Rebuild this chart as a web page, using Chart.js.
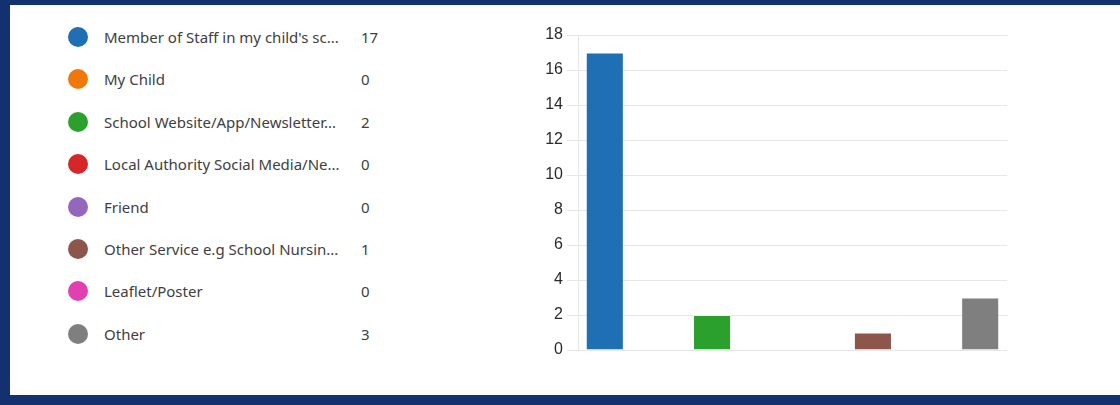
<!DOCTYPE html>
<html>
<head>
<meta charset="utf-8">
<script src="https://cdn.jsdelivr.net/npm/chart.js@4"></script>
<style>
    html, body { margin: 0; padding: 0; }
    body {
        width: 1120px; height: 405px; background: #13306f;
        position: relative; overflow: hidden;
    }
    #panel {
        position: absolute; left: 10px; top: 5px; width: 1110px; height: 390px;
        background: #fff;
    }
    #leyenda {
        position: absolute; left: 0; top: 0;
        font-family: "Noto Sans", "Open Sans", sans-serif; font-size: 15px; color: #404040;
    }
    .fila { position: absolute; height: 24px; line-height: 24px; white-space: nowrap; }
    .punto { position: absolute; left: 58px; top: 2px; width: 20px; height: 20px; border-radius: 50%; }
    .texto { position: absolute; left: 94px; }
    .valor { position: absolute; left: 351px; }
    #graficoFuentes { position: absolute; left: 510px; top: -5px; }
</style>
</head>
<body>
<div id="panel">
    <div id="leyenda"></div>
    <canvas id="graficoFuentes" width="500" height="385"></canvas>
</div>
<script>
// datos
const categorias = [
    "Member of Staff in my child's sc...",
    'My Child',
    'School Website/App/Newsletter...',
    'Local Authority Social Media/Ne...',
    'Friend',
    'Other Service e.g School Nursin...',
    'Leaflet/Poster',
    'Other'
];
const respuestas = [17, 0, 2, 0, 0, 1, 0, 3];
const colores = ['#1f6fb4', '#f0780a', '#2ca02c', '#d62728', '#9467bd', '#8c564b', '#e040b0', '#7f7f7f'];
const ticksY = [0, 2, 4, 6, 8, 10, 12, 14, 16, 18];

document.addEventListener('DOMContentLoaded', function() {
    // leyenda a la izquierda
    const leyenda = document.getElementById('leyenda');
    categorias.forEach(function(nombre, i) {
        const fila = document.createElement('div');
        fila.className = 'fila';
        fila.style.top = (20 + i * 42.4) + 'px';
        fila.innerHTML = '<span class="punto" style="background:' + colores[i] + '"></span>' +
            '<span class="texto">' + nombre + '</span>' +
            '<span class="valor">' + respuestas[i] + '</span>';
        leyenda.appendChild(fila);
    });

    const ctx = document.getElementById('graficoFuentes');
    new Chart(ctx, {
        type: 'bar',
        data: {
            labels: categorias,
            datasets: [{
                data: respuestas,
                backgroundColor: colores,
                borderColor: 'rgba(255,255,255,0.35)',
                borderWidth: 1,
                barPercentage: 0.71,
                categoryPercentage: 1
            }]
        },
        options: {
            responsive: false,
            animation: false,
            layout: { padding: { top: 35, bottom: 35, right: 13, left: 0 } },
            scales: {
                x: { display: false },
                y: {
                    min: 0,
                    max: 18,
                    afterBuildTicks: function(scale) {
                        scale.ticks = ticksY.map(function(v) { return { value: v }; });
                    },
                    afterFit: function(scale) { scale.width = 58; },
                    grid: { color: '#e6e6e6', tickLength: 11 },
                    border: { color: '#e6e6e6' },
                    ticks: {
                        autoSkip: false,
                        padding: 4,
                        color: '#2a2a2a',
                        font: { family: 'Liberation Sans', size: 16 }
                    }
                }
            },
            plugins: {
                legend: { display: false },
                tooltip: { enabled: false }
            }
        }
    });
});
</script>
</body>
</html>
